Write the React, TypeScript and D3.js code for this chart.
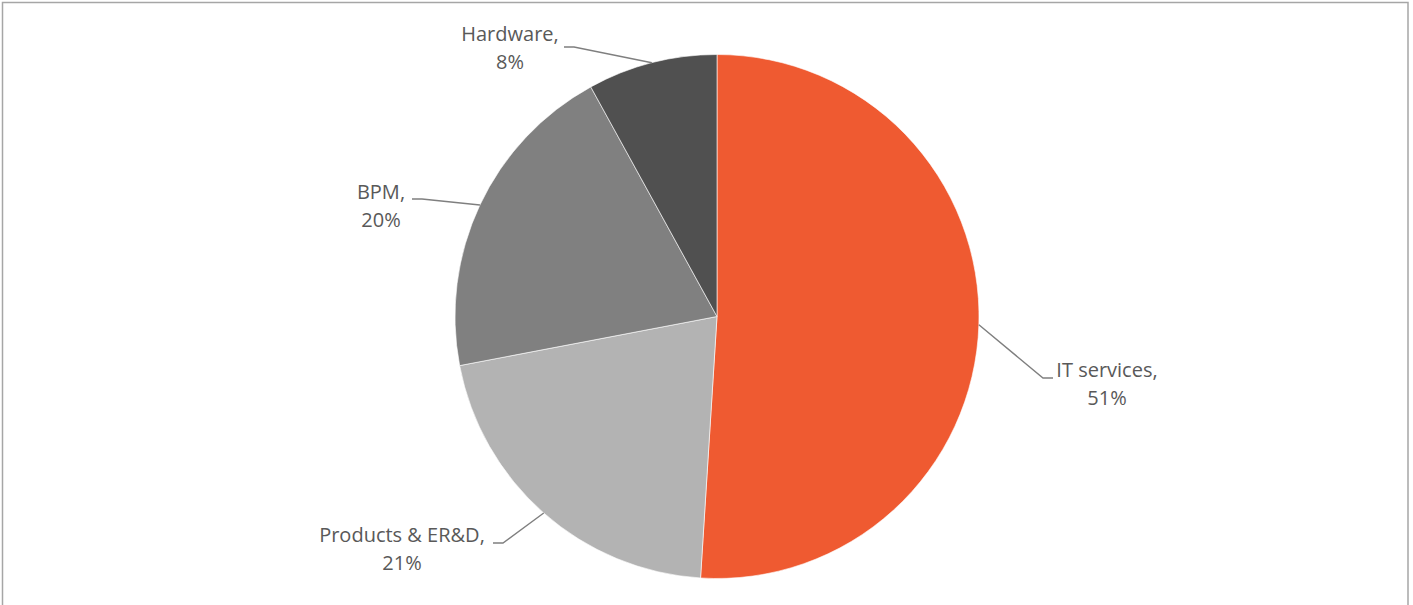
import React from "react";
import * as d3 from "d3";

const categories = ["IT services", "Products & ER&D", "BPM", "Hardware"];
const shares = [51, 21, 20, 8];
const colors = ["#EF5A31", "#B3B3B3", "#808080", "#505050"];

// label layout (text centre x, first baseline y, leader end x/y, elbow direction)
const labelLayout = [
  { tx: 1107, ty: 377, ex: 1053, ey: 378, dir: -1 },
  { tx: 402, ty: 542, ex: 493, ey: 543, dir: 1 },
  { tx: 381, ty: 199, ex: 412, ey: 199, dir: 1 },
  { tx: 510, ty: 41, ex: 564, ey: 47, dir: 1 },
];

const W = 1413;
const H = 605;
const cx = 717;
const cy = 316.5;
const R = 262;

export default function App() {
  const data = categories.map((c, i) => ({ name: c, value: shares[i], i }));
  const pie = d3.pie<any>().value((d) => d.value).sort(null);
  const arcs = pie(data);
  const arc = d3.arc<any>().innerRadius(0).outerRadius(R);
  return (
    <svg
      width={W}
      height={H}
      style={{ position: "absolute", left: 0, top: 0, background: "#fff" }}
    >
      <rect x={2.5} y={2.5} width={1405.5} height={H + 10} fill="#fff" stroke="#A6A6A6" strokeWidth={1.5} />
      <g transform={`translate(${cx},${cy})`}>
        {arcs.map((a, i) => (
          <path key={i} d={arc(a) as string} fill={colors[i]} stroke="#fff" strokeWidth={0.6} />
        ))}
      </g>
      {arcs.map((a, i) => {
        const mid = (a.startAngle + a.endAngle) / 2;
        const sx = cx + R * Math.sin(mid);
        const sy = cy - R * Math.cos(mid);
        const L = labelLayout[i];
        const elx = L.ex + L.dir * 10;
        return (
          <g key={"l" + i}>
            <polyline
              points={`${sx},${sy} ${elx},${L.ey} ${L.ex},${L.ey}`}
              fill="none"
              stroke="#7F7F7F"
              strokeWidth={1.4}
            />
            <text
              x={L.tx}
              y={L.ty}
              textAnchor="middle"
              fontFamily="'Open Sans', sans-serif"
              fontSize={20}
              fill="#595959"
            >
              <tspan x={L.tx}>{categories[i]},</tspan>
              <tspan x={L.tx} dy={28}>{shares[i]}%</tspan>
            </text>
          </g>
        );
      })}
    </svg>
  );
}
